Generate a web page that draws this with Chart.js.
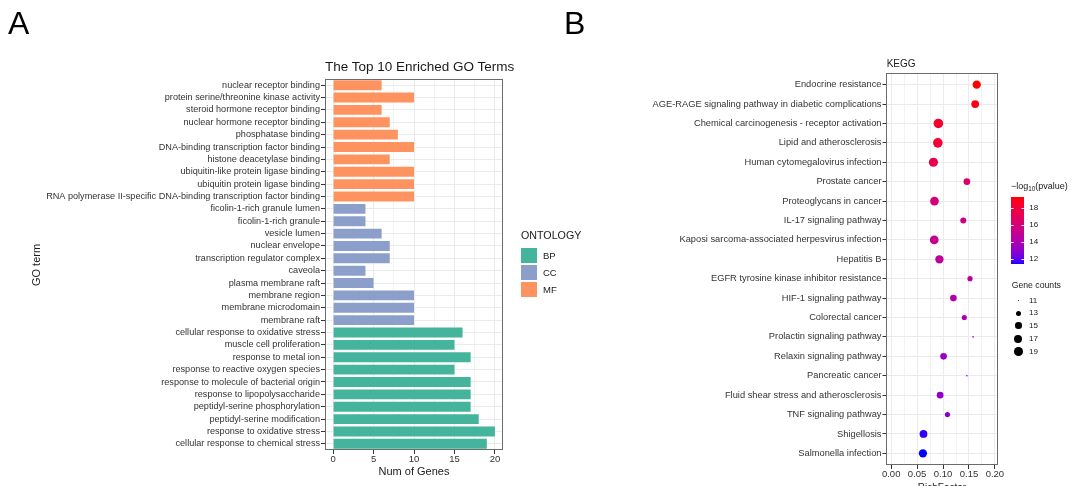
<!DOCTYPE html>
<html><head><meta charset="utf-8">
<script src="https://cdn.jsdelivr.net/npm/chart.js@4.4.1/dist/chart.umd.min.js"></script>
<style>
html,body{margin:0;padding:0;background:#fff;}
body{width:1075px;height:486px;position:relative;overflow:hidden;font-family:"Liberation Sans",Arial,sans-serif;color:#1a1a1a;}
canvas{position:absolute;top:0;}
.t{position:absolute;white-space:nowrap;}
.box{position:absolute;}
.dot{position:absolute;border-radius:50%;background:#000;}
</style></head><body>
<canvas id="go" width="560" height="486" style="left:0;width:560px;height:486px"></canvas>
<canvas id="kegg" width="515" height="486" style="left:560px;width:515px;height:486px"></canvas>
<div id="overlay"></div>
<script>
// ---------- Panel A data (top to bottom) ----------
const goTerms = [
  "nuclear receptor binding",
  "protein serine/threonine kinase activity",
  "steroid hormone receptor binding",
  "nuclear hormone receptor binding",
  "phosphatase binding",
  "DNA-binding transcription factor binding",
  "histone deacetylase binding",
  "ubiquitin-like protein ligase binding",
  "ubiquitin protein ligase binding",
  "RNA polymerase II-specific DNA-binding transcription factor binding",
  "ficolin-1-rich granule lumen",
  "ficolin-1-rich granule",
  "vesicle lumen",
  "nuclear envelope",
  "transcription regulator complex",
  "caveola",
  "plasma membrane raft",
  "membrane region",
  "membrane microdomain",
  "membrane raft",
  "cellular response to oxidative stress",
  "muscle cell proliferation",
  "response to metal ion",
  "response to reactive oxygen species",
  "response to molecule of bacterial origin",
  "response to lipopolysaccharide",
  "peptidyl-serine phosphorylation",
  "peptidyl-serine modification",
  "response to oxidative stress",
  "cellular response to chemical stress"
];
const goCounts = [6,10,6,7,8,10,7,10,10,10, 4,4,6,7,7,4,5,10,10,10, 16,15,17,15,17,17,17,18,20,19];
const goOntology = ["MF","MF","MF","MF","MF","MF","MF","MF","MF","MF",
                    "CC","CC","CC","CC","CC","CC","CC","CC","CC","CC",
                    "BP","BP","BP","BP","BP","BP","BP","BP","BP","BP"];
const ontologies = ["BP","CC","MF"];
const goXTicks = [0,2.5,5,7.5,10,12.5,15,17.5,20];

// ---------- Panel B data (top to bottom) ----------
const keggTerms = [
  "Endocrine resistance",
  "AGE-RAGE signaling pathway in diabetic complications",
  "Chemical carcinogenesis - receptor activation",
  "Lipid and atherosclerosis",
  "Human cytomegalovirus infection",
  "Prostate cancer",
  "Proteoglycans in cancer",
  "IL-17 signaling pathway",
  "Kaposi sarcoma-associated herpesvirus infection",
  "Hepatitis B",
  "EGFR tyrosine kinase inhibitor resistance",
  "HIF-1 signaling pathway",
  "Colorectal cancer",
  "Prolactin signaling pathway",
  "Relaxin signaling pathway",
  "Pancreatic cancer",
  "Fluid shear stress and atherosclerosis",
  "TNF signaling pathway",
  "Shigellosis",
  "Salmonella infection"
];
const keggRichFactor = [0.165,0.162,0.091,0.090,0.0815,0.146,0.0835,0.139,0.083,0.093,0.152,0.120,0.141,0.158,0.101,0.146,0.0944,0.1085,0.0623,0.0612];
const keggGeneCount  = [18,17,21,21,20,15,19,14,19,18,13,15,13,11,15,11,15,13,17,18];
const keggLogP       = [19.3,19.0,18.4,18.2,17.3,16.4,16.0,15.4,15.1,14.8,14.5,14.2,14.0,13.8,13.4,13.2,13.0,12.8,11.6,11.41];
const keggXTicks = [0,0.025,0.05,0.075,0.1,0.125,0.15,0.175,0.2];
const colorbarTicks = [12,14,16,18];
const sizeLegendCounts = [11,13,15,17,19];

// ---------- styles ----------
const ontColors = {BP:"#45B49C", CC:"#8C9FCB", MF:"#FE9360"};
const FONT = '"Liberation Sans", Arial, sans-serif';
Chart.defaults.font.family = FONT;
const TICKCOL = '#333333';
const GRIDCOL = '#EBEBEB';

// Lab interpolation blue -> red (like ggplot gradient)
function toLin(c){c/=255;return c<=0.04045?c/12.92:Math.pow((c+0.055)/1.055,2.4);}
function toS(c){c=c<=0.0031308?12.92*c:1.055*Math.pow(c,1/2.4)-0.055;return Math.round(Math.max(0,Math.min(1,c))*255);}
function rgb2lab(r,g,b){r=toLin(r);g=toLin(g);b=toLin(b);
  let X=(0.4124*r+0.3576*g+0.1805*b)/0.95047,Y=0.2126*r+0.7152*g+0.0722*b,Z=(0.0193*r+0.1192*g+0.9505*b)/1.08883;
  const f=t=>t>0.008856?Math.cbrt(t):7.787*t+16/116;
  const fx=f(X),fy=f(Y),fz=f(Z);return [116*fy-16,500*(fx-fy),200*(fy-fz)];}
function lab2rgb(L,a,b){const fy=(L+16)/116,fx=fy+a/500,fz=fy-b/200;
  const fi=t=>{const t3=t*t*t;return t3>0.008856?t3:(t-16/116)/7.787;};
  const X=fi(fx)*0.95047,Y=fi(fy),Z=fi(fz)*1.08883;
  return [toS(3.2406*X-1.5372*Y-0.4986*Z),toS(-0.9689*X+1.8758*Y+0.0415*Z),toS(0.0557*X-0.2040*Y+1.0570*Z)];}
const LAB_LO=rgb2lab(0,0,255), LAB_HI=rgb2lab(255,0,0);
const pLo=Math.min(...keggLogP), pHi=Math.max(...keggLogP);
function colorFor(v){let t=(v-pLo)/(pHi-pLo);t=Math.max(0,Math.min(1,t));
  const c=lab2rgb(LAB_LO[0]+(LAB_HI[0]-LAB_LO[0])*t,LAB_LO[1]+(LAB_HI[1]-LAB_LO[1])*t,LAB_LO[2]+(LAB_HI[2]-LAB_LO[2])*t);
  return `rgb(${c[0]},${c[1]},${c[2]})`;}
const cMin=Math.min(...keggGeneCount), cMax=Math.max(...keggGeneCount);
function radiusFor(c){return 0.8*(1+5*Math.sqrt(Math.max(0,(c-cMin)/(cMax-cMin))));}

const borderPlugin={id:'pborder',afterDatasetsDraw(chart){const a=chart.chartArea,c=chart.ctx;c.save();c.strokeStyle='#6b6b6b';c.lineWidth=1;
  c.strokeRect(Math.round(a.left)+0.5,Math.round(a.top)+0.5,Math.round(a.right-a.left)-1,Math.round(a.bottom-a.top)-1);c.restore();}};

// ---------- Panel A chart ----------
new Chart(document.getElementById('go'),{
  type:'bar',
  data:{labels:goTerms,datasets:ontologies.map(o=>({label:o,data:goCounts.map((v,i)=>goOntology[i]===o?v:null),
    backgroundColor:ontColors[o],borderWidth:0,grouped:false,barPercentage:0.8,categoryPercentage:1}))},
  options:{indexAxis:'y',responsive:false,animation:false,devicePixelRatio:1,
    layout:{padding:{top:79,right:57,left:0,bottom:0}},
    plugins:{legend:{display:false},tooltip:{enabled:false}},
    scales:{
      x:{type:'linear',min:-1,max:21,
        afterBuildTicks:s=>{s.ticks=goXTicks.map(v=>({value:v}));},
        afterFit:s=>{s.height=36;},
        border:{display:false},
        grid:{color:GRIDCOL,lineWidth:c=>(c.tick&&c.tick.value%5===0)?1:0.6,tickLength:4,
          tickColor:c=>(c.tick&&c.tick.value%5===0)?'#333':'rgba(0,0,0,0)'},
        ticks:{padding:0,color:TICKCOL,font:{size:9.5},maxRotation:0,autoSkip:false,callback:v=>v%5===0?String(v):''}},
      y:{afterFit:s=>{s.width=325;},border:{display:false},
        grid:{color:GRIDCOL,offset:false,tickLength:4,tickColor:'#333'},
        ticks:{padding:1,color:TICKCOL,font:{size:9.15},autoSkip:false}}
    }},
  plugins:[borderPlugin]
});

// ---------- Panel B chart ----------
const cbPlugin={id:'colorbar',afterDraw(chart){const c=chart.ctx;const x0=451,w=13,yTop=197,yBot=264;
  c.save();
  for(let py=yTop;py<yBot;py++){const v=pHi-(py+0.5-yTop)/(yBot-yTop)*(pHi-pLo);c.fillStyle=colorFor(v);c.fillRect(x0,py,w,1);}
  c.strokeStyle='rgba(255,255,255,0.9)';c.lineWidth=1;
  colorbarTicks.forEach(v=>{const y=Math.round(yBot-(v-pLo)/(pHi-pLo)*(yBot-yTop))+0.5;
    c.beginPath();c.moveTo(x0,y);c.lineTo(x0+2.6,y);c.moveTo(x0+w-2.6,y);c.lineTo(x0+w,y);c.stroke();});
  c.restore();}};

new Chart(document.getElementById('kegg'),{
  type:'scatter',
  data:{datasets:[{data:keggTerms.map((t,i)=>({x:keggRichFactor[i],y:i})),
    pointRadius:keggGeneCount.map(radiusFor),pointHoverRadius:keggGeneCount.map(radiusFor),
    backgroundColor:keggLogP.map(colorFor),borderWidth:0,pointBorderWidth:0}]},
  options:{responsive:false,animation:false,devicePixelRatio:1,
    layout:{padding:{top:73,right:77,left:0,bottom:0}},
    plugins:{legend:{display:false},tooltip:{enabled:false}},
    scales:{
      x:{type:'linear',min:-0.01,max:0.206,
        afterBuildTicks:s=>{s.ticks=keggXTicks.map(v=>({value:v}));},
        afterFit:s=>{s.height=21;},
        border:{display:false},
        grid:{color:GRIDCOL,lineWidth:c=>(c.tick&&Math.round(c.tick.value*1000)%50===0)?1:0.6,tickLength:4,
          tickColor:c=>(c.tick&&Math.round(c.tick.value*1000)%50===0)?'#333':'rgba(0,0,0,0)'},
        ticks:{padding:0,color:TICKCOL,font:{size:9.5},maxRotation:0,autoSkip:false,
          callback:v=>Math.round(v*1000)%50===0?v.toFixed(2):''}},
      y:{type:'linear',reverse:true,min:-0.6,max:keggTerms.length-0.4,
        afterBuildTicks:s=>{s.ticks=keggTerms.map((_,i)=>({value:i}));},
        afterFit:s=>{s.width=326;},border:{display:false},
        grid:{color:GRIDCOL,tickLength:3.5,tickColor:'#333'},
        ticks:{padding:1,color:TICKCOL,font:{size:9.3},autoSkip:false,callback:v=>keggTerms[v]}}
    }},
  plugins:[borderPlugin,cbPlugin]
});

// ---------- text & legends (HTML) ----------
const ov=document.getElementById('overlay');
function txt(html,x,yc,fs,opt={}){const d=document.createElement('div');d.className='t';d.innerHTML=html;
  d.style.fontSize=fs+'px';d.style.lineHeight=fs+'px';d.style.top=(yc-fs/2)+'px';d.style.left=x+'px';
  d.style.color=opt.color||'#1a1a1a';
  if(opt.align==='center')d.style.transform='translateX(-50%)';
  ov.appendChild(d);return d;}
txt('A',8,23.3,32,{color:'#000'});
txt('B',564,23.3,32,{color:'#000'});
txt('The Top 10 Enriched GO Terms',325,66.7,13.5);
txt('Num of Genes',414,471.7,11,{align:'center'});
const gt=txt('GO term',36,264.6,11);
gt.style.transformOrigin='0 0';gt.style.transform='rotate(-90deg) translate(-50%,-50%)';gt.style.left='36px';gt.style.top='264.6px';
txt('ONTOLOGY',521,235.7,10.7);
ontologies.forEach((o,i)=>{const y=248.3+i*16.9;const b=document.createElement('div');b.className='box';
  b.style.left='521px';b.style.top=y+'px';b.style.width='15.7px';b.style.height='15px';b.style.background=ontColors[o];ov.appendChild(b);
  txt(o,543,y+7.5,9.5);});
txt('KEGG',886.7,64,10);
txt('RichFactor',942,488,10,{align:'center'});
txt('&minus;log<span style="font-size:0.7em;position:relative;top:0.25em">10</span>(pvalue)',1011,186.7,9);
colorbarTicks.forEach(v=>{const y=264-(v-pLo)/(pHi-pLo)*(264-197);txt(String(v),1029.3,y,8);});
txt('Gene counts',1011.7,285.7,8.7);
const sizeY=[300.7,313.3,325.7,339,351.7];
sizeLegendCounts.forEach((c,i)=>{const r=radiusFor(c);const d=document.createElement('div');d.className='dot';
  d.style.left=(1018.3-r)+'px';d.style.top=(sizeY[i]-r)+'px';d.style.width=(2*r)+'px';d.style.height=(2*r)+'px';ov.appendChild(d);
  txt(String(c),1029,sizeY[i],8);});
</script>
</body></html>
